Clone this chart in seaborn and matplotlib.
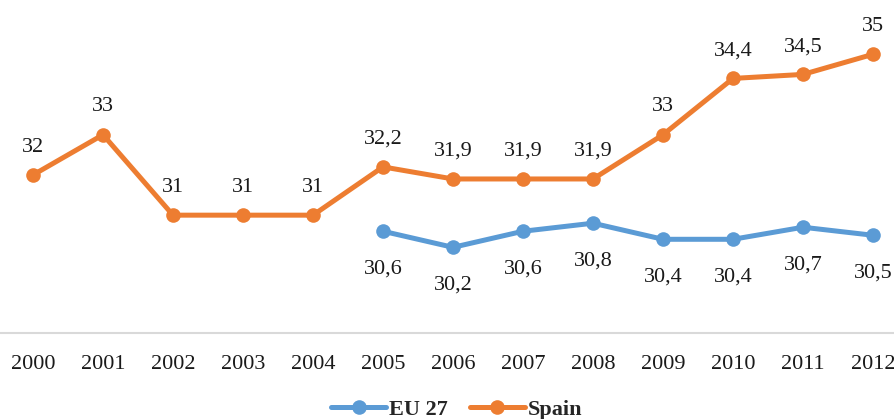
import pandas as pd
import seaborn as sns
import matplotlib.pyplot as plt

# --- DATA ---
years_spain = [2000, 2001, 2002, 2003, 2004, 2005, 2006, 2007, 2008, 2009, 2010, 2011, 2012]
spain = [32, 33, 31, 31, 31, 32.2, 31.9, 31.9, 31.9, 33, 34.4, 34.5, 35]
years_eu = [2005, 2006, 2007, 2008, 2009, 2010, 2011, 2012]
eu27 = [30.6, 30.2, 30.6, 30.8, 30.4, 30.4, 30.7, 30.5]

BLUE = '#5B9BD5'
ORANGE = '#ED7D31'

sns.set_theme(style="white")
plt.rcParams['font.family'] = ['Liberation Serif', 'DejaVu Serif']

df_eu = pd.DataFrame({'year': years_eu, 'value': eu27})
df_es = pd.DataFrame({'year': years_spain, 'value': spain})

fig = plt.figure(figsize=(8.95, 4.19), dpi=100)
ax = fig.add_axes([0, 1 - 333 / 419, 1, 333 / 419])

sns.lineplot(data=df_eu, x='year', y='value', ax=ax, color=BLUE, linewidth=3.6,
             marker='o', markersize=10.5, markeredgewidth=0, label='EU 27')
sns.lineplot(data=df_es, x='year', y='value', ax=ax, color=ORANGE, linewidth=3.6,
             marker='o', markersize=10.5, markeredgewidth=0, label='Spain')


def fmt(v):
    return f"{v:g}".replace('.', ',')


# etykiety danych
for x, v in zip(years_spain, spain):
    ax.annotate(fmt(v), (x, v), xytext=(0, 20), textcoords='offset points',
                ha='center', va='center', fontsize=16, color='#1a1a1a')
for x, v in zip(years_eu, eu27):
    ax.annotate(fmt(v), (x, v), xytext=(0, -27), textcoords='offset points',
                ha='center', va='center', fontsize=16, color='#1a1a1a')

ax.set_xlim(2000 - 33 / 70, 2012 + 22 / 70)
ax.set_ylim(28.07, 36.35)
ax.set_xticks(years_spain)
ax.set_xticklabels([str(y) for y in years_spain], fontsize=16, color='#1a1a1a')
ax.tick_params(axis='x', length=0, pad=16)
ax.set_yticks([])
ax.set_xlabel('')
ax.set_ylabel('')
for s in ['top', 'left', 'right']:
    ax.spines[s].set_visible(False)
ax.spines['bottom'].set_color('#D9D9D9')
ax.spines['bottom'].set_linewidth(1.5)

leg = ax.legend(loc='center', bbox_to_anchor=(0.51, -0.23), ncol=2, frameon=False,
                handlelength=2.5, columnspacing=1.0, handletextpad=0.1,
                prop={'family': 'Liberation Serif', 'weight': 'bold', 'size': 16})

fig.savefig('out.png', dpi=100)
